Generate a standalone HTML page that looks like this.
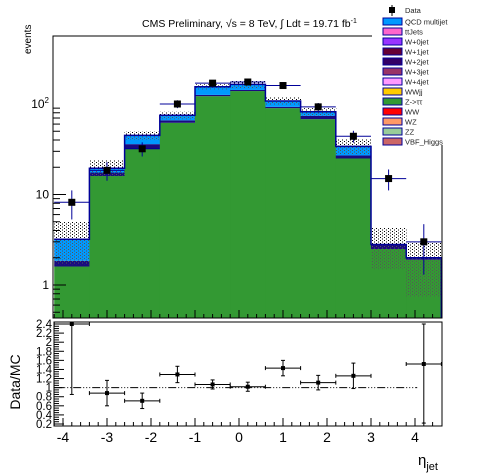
<!DOCTYPE html>
<html><head><meta charset="utf-8">
<style>
html,body{margin:0;padding:0;background:#fff;}
svg{display:block;font-family:"Liberation Sans",sans-serif;}
</style></head>
<body>
<svg id="c" width="496" height="474" viewBox="0 0 496 474" xmlns="http://www.w3.org/2000/svg">
<defs>
<pattern id="dots" width="4" height="3" patternUnits="userSpaceOnUse"><rect x="0" y="0" width="1" height="1" fill="#000"/><rect x="2" y="1.5" width="1" height="1" fill="#000"/></pattern>
<pattern id="dotsg" width="4" height="3" patternUnits="userSpaceOnUse"><rect x="0" y="0" width="1" height="1" fill="#555"/><rect x="2" y="1.5" width="1" height="1" fill="#555"/></pattern>
<clipPath id="mainclip"><rect x="53" y="36" width="389" height="282"/></clipPath>
</defs>
<g id="main" clip-path="url(#mainclip)"></g>
<g id="axes"></g>
<g id="ratio"></g>
<text x="142" y="27" font-size="10.5">CMS Preliminary, √s = 8 TeV, ∫ Ldt = 19.71 fb<tspan dy="-4" font-size="7">-1</tspan></text>
<text transform="translate(31,54) rotate(-90)" font-size="10">events</text>
<text transform="translate(20,382) rotate(-90)" font-size="14" text-anchor="middle">Data/MC</text>
<text x="418" y="465" font-size="15">η<tspan dy="5" font-size="11">jet</tspan></text>
<g id="legend"></g>
</svg>
<script>
const edges=[-4.2,-3.4,-2.6,-1.8,-1.0,-0.2,0.6,1.4,2.2,3.0,3.8,4.6];
const centers=[-3.8,-3.0,-2.2,-1.4,-0.6,0.2,1.0,1.8,2.6,3.4,4.2];
const dataVals=[8.2,18.5,32,100,170,175,160,93,44,15,3];
const dataErrUp=[2.9,4.3,5.7,10,13,13,12.6,9.6,6.6,3.9,1.7];
const dataErrDn=[2.9,4.3,5.7,10,13,13,12.6,9.6,6.6,3.9,1.7];
const zttVals=[1.6,16,32,62,122,139,90,68,25,2.5,1.9];
const otherVals=[0.25,1.5,4,4,4,4,3,6,2,0.3,0.1];
const totalVals=[3.2,19.5,45,75,155,165,108,82,34,2.8,2.0];
const bandUp=[5,24,50,82,165,180,118,90,41,4.3,3.0];
const bandDn=[1.7,16,40,68,145,150,98,74,28,1.5,0.75];
const ratioVals=[2.45,0.88,0.71,1.29,1.07,1.02,1.43,1.11,1.26,null,1.52];
const ratioErr=[1.6,0.28,0.17,0.18,0.1,0.1,0.17,0.16,0.28,null,1.3];
const ratioTicks=[0.2,0.4,0.6,0.8,1,1.2,1.4,1.6,1.8,2,2.2,2.4];
const xTicks=[-4,-3,-2,-1,0,1,2,3,4];
const legendNames=["QCD multijet","ttJets","W+0jet","W+1jet","W+2jet","W+3jet","W+4jet","WWjj","Z->ττ","WW","WZ","ZZ","VBF_Higgs"];
const legendColors=["#0099ff","#ff66cc","#9933ff","#660033","#330066","#993366","#ff99ff","#ffcc00","#339933","#ff0000","#ff9966","#99cc99","#cc6666"];

const NS="http://www.w3.org/2000/svg";
const X=v=>239+(v)*44;
const Y=v=>285-Math.log10(v)*90.5;
const RY=v=>424-(v-0.2)*45.45;
function mk(tag,attrs,parent){const e=document.createElementNS(NS,tag);for(const k in attrs)e.setAttribute(k,attrs[k]);parent.appendChild(e);return e;}
const main=document.getElementById('main'),axes=document.getElementById('axes'),ratio=document.getElementById('ratio'),leg=document.getElementById('legend');
const BOT=318;
for(let i=0;i<centers.length;i++){
  const x0=X(edges[i]),x1=X(edges[i+1])+0.5,w=x1-x0;
  let r=mk('rect',{x:x0,y:Y(zttVals[i]),width:w,height:BOT-Y(zttVals[i]),fill:'#339933'},main);
  
  const o=zttVals[i]+otherVals[i];
  r=mk('rect',{x:x0,y:Y(o),width:w,height:Y(zttVals[i])-Y(o),fill:'#1a0a80'},main);
  
  r=mk('rect',{x:x0,y:Y(totalVals[i]),width:w,height:Math.max(0,Y(o)-Y(totalVals[i])),fill:'#0099ff'},main);
  
  r=mk('rect',{x:x0,y:Y(bandUp[i]),width:w,height:Y(totalVals[i])-Y(bandUp[i]),fill:'url(#dots)'},main);
  
  r=mk('rect',{x:x0,y:Y(totalVals[i]),width:w,height:Y(bandDn[i])-Y(totalVals[i]),fill:'url(#dotsg)'},main);
  
}
let d='M'+X(edges[0])+','+Y(totalVals[0]);
for(let i=0;i<centers.length;i++){d+=' L'+X(edges[i])+','+Y(totalVals[i])+' L'+X(edges[i+1])+','+Y(totalVals[i]);}
d+=' L'+X(edges[edges.length-1])+','+BOT;
let p=mk('path',{d:d,fill:'none',stroke:'#000099','stroke-width':1.5},main);

for(let i=0;i<centers.length;i++){
  const cx=X(centers[i]),cy=Y(dataVals[i]);
  const g=mk('g',{},main);
  
  mk('line',{x1:X(edges[i]),x2:X(edges[i+1]),y1:cy,y2:cy,stroke:'#000099','stroke-width':1},g);
  mk('line',{x1:cx,x2:cx,y1:Y(dataVals[i]+dataErrUp[i]),y2:Y(Math.max(0.3,dataVals[i]-dataErrDn[i])),stroke:'#000099','stroke-width':1},g);
  mk('rect',{x:cx-3.5,y:cy-3.5,width:7,height:7,fill:'#000'},g);
}
let f=mk('rect',{x:53,y:36,width:389,height:282,fill:'none',stroke:'#000','stroke-width':1},axes);

for(let dec=0;dec<3;dec++){for(let m=1;m<10;m++){const v=m*Math.pow(10,dec-1);const y=Y(v);if(y<36||y>318)continue;mk('line',{x1:53,x2:53+(m==1?13:7),y1:y,y2:y,stroke:'#000'},axes);}}
[[1,'1'],[10,'10']].forEach(([v,t])=>{const e=mk('text',{x:49,y:Y(v)+4,'font-size':12,'text-anchor':'end'},axes);e.textContent=t;});
{const e=mk('text',{x:49,y:Y(100)+4,'font-size':12,'text-anchor':'end'},axes);e.innerHTML='10<tspan dy="-5" font-size="8">2</tspan>';}
for(let v=-4.2;v<=4.6;v+=0.2){const x=X(v);const maj=Math.abs(v-Math.round(v))<0.01;mk('line',{x1:x,x2:x,y1:318,y2:318-(maj?8:4),stroke:'#000'},axes);}
f=mk('rect',{x:54,y:322,width:388,height:104,fill:'none',stroke:'#000','stroke-width':1},ratio);

for(let v=0.2;v<=2.41;v+=0.05){const y=RY(v);const maj=Math.abs(v*5-Math.round(v*5))<0.01;mk('line',{x1:54,x2:54+(maj?10:5),y1:y,y2:y,stroke:'#000'},ratio);}
ratioTicks.forEach(v=>{const e=mk('text',{x:52,y:RY(v)+4,'font-size':11.5,'text-anchor':'end'},ratio);e.textContent=String(v);});
for(let v=-4.2;v<=4.6;v+=0.2){const x=X(v);const maj=Math.abs(v-Math.round(v))<0.01;mk('line',{x1:x,x2:x,y1:426,y2:426-(maj?8:4),stroke:'#000'},ratio);}
xTicks.forEach(v=>{const e=mk('text',{x:X(v),y:442,'font-size':14,'text-anchor':'middle'},ratio);e.textContent=String(v);});
let ul=mk('line',{x1:X(-4.2),x2:X(4.05),y1:RY(1),y2:RY(1),stroke:'#000','stroke-dasharray':'8,2,1,2,1,2,1,2'},ratio);

for(let i=0;i<centers.length;i++){
  if(ratioVals[i]===null)continue;
  const cx=X(centers[i]);const v=Math.min(ratioVals[i],2.4);const cy=RY(v);
  const g=mk('g',{},ratio);
  
  mk('line',{x1:X(edges[i]),x2:X(edges[i+1]),y1:cy,y2:cy,stroke:'#000'},g);
  mk('line',{x1:X(edges[i]),x2:X(edges[i]),y1:cy-2,y2:cy+2,stroke:'#000'},g);
  mk('line',{x1:X(edges[i+1]),x2:X(edges[i+1]),y1:cy-2,y2:cy+2,stroke:'#000'},g);
  const up=Math.min(2.4,ratioVals[i]+ratioErr[i]),dn=Math.max(0.2,ratioVals[i]-ratioErr[i]);
  mk('line',{x1:cx,x2:cx,y1:RY(up),y2:RY(dn),stroke:'#000'},g);
  mk('line',{x1:cx-2,x2:cx+2,y1:RY(up),y2:RY(up),stroke:'#000'},g);
  mk('line',{x1:cx-2,x2:cx+2,y1:RY(dn),y2:RY(dn),stroke:'#000'},g);
  mk('rect',{x:cx-2,y:cy-2,width:4,height:4,fill:'#000'},g);
}
mk('rect',{x:372,y:0,width:124,height:145,fill:'#fff'},leg);
{const g=mk('g',{},leg);
mk('rect',{x:389,y:7,width:6,height:6,fill:'#000'},g);mk('line',{x1:392,x2:392,y1:5,y2:16,stroke:'#000'},g);
const t=mk('text',{x:405,y:13,'font-size':7.5,fill:'#222'},g);t.textContent='Data';}
legendNames.forEach((n,i)=>{const y=21+i*10;const g=mk('g',{},leg);

mk('rect',{x:383,y:y-3,width:19,height:7,fill:legendColors[i],stroke:'#000099','stroke-width':1},g);
const t=mk('text',{x:405,y:y+3.5,'font-size':7.5,fill:'#222'},g);t.textContent=n;});
</script>
</body></html>
